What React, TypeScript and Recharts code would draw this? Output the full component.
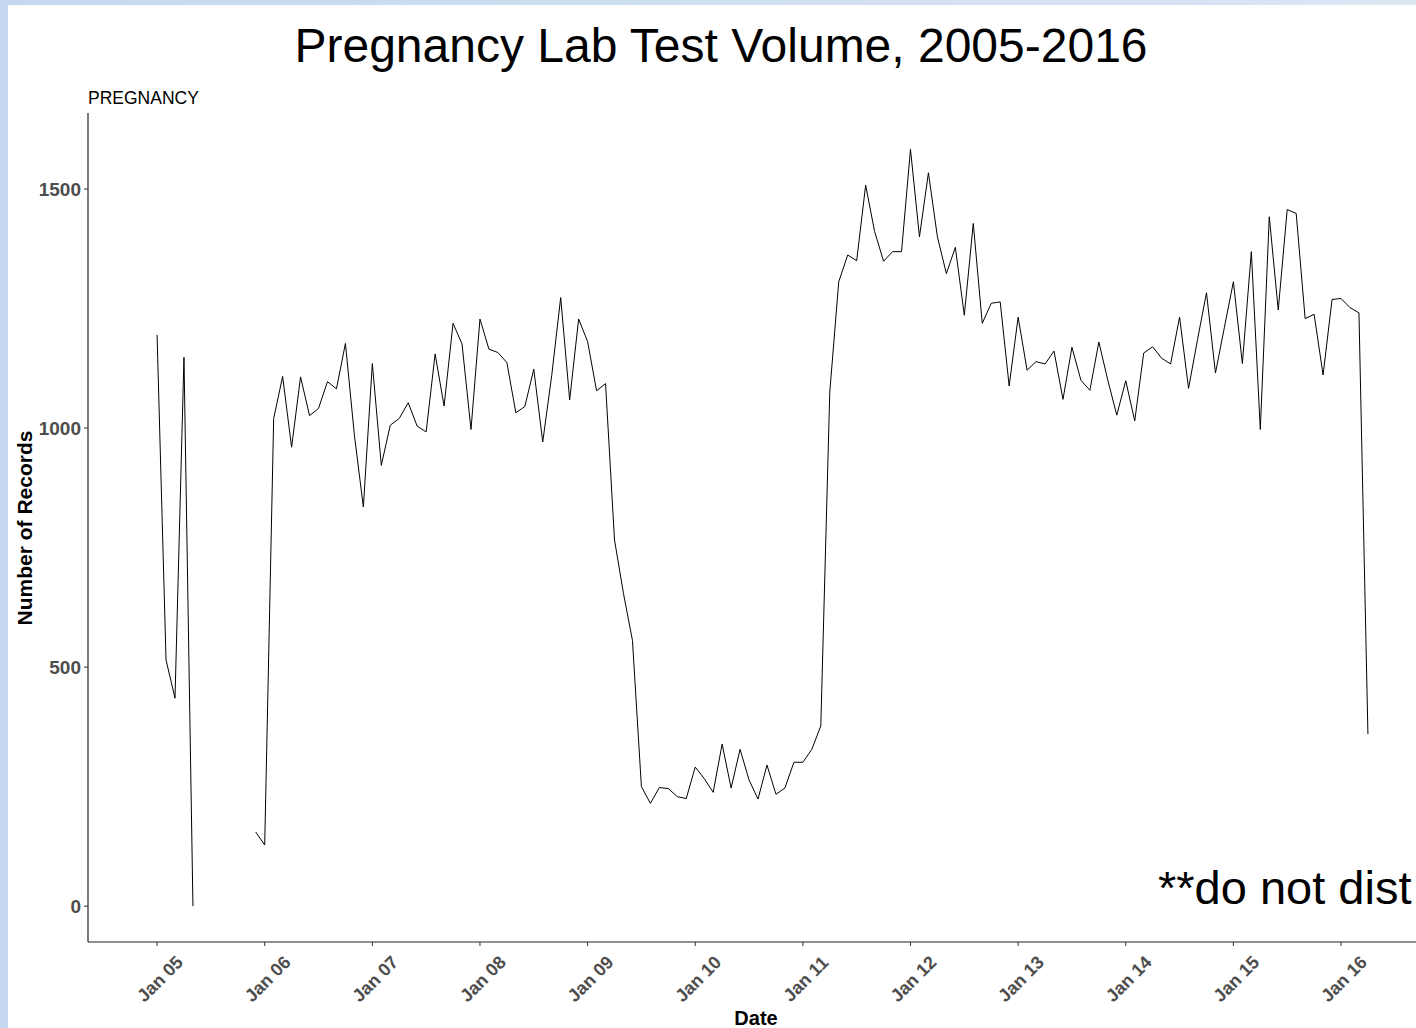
import React from 'react';
import { LineChart, Line, XAxis, YAxis } from 'recharts';

const FONT = '"Liberation Sans", Arial, Helvetica, sans-serif';

// Monthly record counts, Jan..Dec of each year
const months = ['Jan', 'Feb', 'Mar', 'Apr', 'May', 'Jun', 'Jul', 'Aug', 'Sep', 'Oct', 'Nov', 'Dec'];
const years = ['05', '06', '07', '08', '09', '10', '11', '12', '13', '14', '15', '16'];

const values2005 = [1195, 515, 435, 1148, 0, null, null, null, null, null, null, 155];
const values2006 = [128, 1020, 1108, 960, 1107, 1026, 1041, 1097, 1082, 1177, 985, 835];
const values2007 = [1135, 922, 1006, 1020, 1053, 1004, 992, 1155, 1046, 1219, 1176, 997];
const values2008 = [1228, 1165, 1158, 1137, 1032, 1045, 1123, 971, 1110, 1273, 1059, 1228];
const values2009 = [1181, 1078, 1093, 766, 654, 556, 250, 215, 248, 246, 229, 225];
const values2010 = [291, 267, 238, 339, 247, 328, 264, 224, 295, 234, 247, 301];
const values2011 = [301, 328, 377, 1075, 1306, 1362, 1350, 1508, 1411, 1349, 1369, 1369];
const values2012 = [1583, 1400, 1534, 1400, 1323, 1378, 1236, 1428, 1219, 1261, 1264, 1088];
const values2013 = [1232, 1121, 1139, 1134, 1161, 1060, 1169, 1100, 1079, 1180, 1100, 1027];
const values2014 = [1099, 1015, 1157, 1170, 1146, 1134, 1232, 1083, 1185, 1283, 1115, 1211];
const values2015 = [1306, 1135, 1369, 997, 1442, 1247, 1457, 1449, 1229, 1238, 1111, 1269];
const values2016 = [1271, 1252, 1241, 360];

const yTicks = [0, 500, 1000, 1500];
const xTickLabels = years.map((y) => `Jan ${y}`);

const allValues: (number | null)[] = [
  ...values2005, ...values2006, ...values2007, ...values2008, ...values2009, ...values2010,
  ...values2011, ...values2012, ...values2013, ...values2014, ...values2015, ...values2016,
];

const data = allValues.map((v, i) => ({
  idx: i,
  label: `${months[i % 12]} ${years[Math.floor(i / 12)]}`,
  records: v,
}));

const xTicks = xTickLabels.map((_, k) => k * 12);

const CHART_W = 1460;
const CHART_H = 1028;

const XTick = (props: any) => {
  const { x, y, payload } = props;
  const label = xTickLabels[Math.round(payload.value / 12)];
  return (
    <g transform={`translate(${x + 3},${y + 31})`}>
      <text
        transform="rotate(-45)"
        textAnchor="middle"
        dominantBaseline="central"
        fontFamily={FONT}
        fontWeight="bold"
        fontSize={18}
        fill="#4d4d4d"
      >
        {label}
      </text>
    </g>
  );
};

const YTick = (props: any) => {
  const { x, y, payload } = props;
  return (
    <text
      x={x}
      y={y}
      dy="0.36em"
      textAnchor="end"
      fontFamily={FONT}
      fontWeight="bold"
      fontSize={19}
      fill="#4d4d4d"
    >
      {payload.value}
    </text>
  );
};

export default function App() {
  return (
    <div
      style={{
        position: 'fixed',
        left: 0,
        top: 0,
        width: 1416,
        height: 1028,
        overflow: 'hidden',
        background: 'linear-gradient(to right, #c4d8ef, #dbe6f3)',
      }}
    >
      <div
        style={{
          position: 'absolute',
          left: 8,
          top: 5,
          width: 1416,
          height: 1028,
          background: '#ffffff',
        }}
      />
      <div style={{ position: 'absolute', left: 0, top: 0 }}>
        <LineChart
          width={CHART_W}
          height={CHART_H}
          data={data}
          margin={{ top: 113, right: 23, bottom: 26, left: 28 }}
        >
          <XAxis
            dataKey="idx"
            type="number"
            domain={[-7.7, 142.7]}
            ticks={xTicks}
            allowDataOverflow
            height={60}
            tickSize={4}
            tickMargin={2}
            tick={<XTick />}
            axisLine={{ stroke: '#222', strokeWidth: 1.2 }}
            tickLine={{ stroke: '#333', strokeWidth: 1 }}
          />
          <YAxis
            type="number"
            domain={[-75, 1659]}
            ticks={yTicks}
            allowDataOverflow
            width={60}
            tickSize={4}
            tickMargin={3}
            tick={<YTick />}
            axisLine={{ stroke: '#222', strokeWidth: 1.2 }}
            tickLine={{ stroke: '#333', strokeWidth: 1 }}
          />
          <Line
            type="linear"
            dataKey="records"
            stroke="#000000"
            strokeWidth={1}
            dot={false}
            activeDot={false}
            connectNulls={false}
            isAnimationActive={false}
          />
        </LineChart>
      </div>
      <svg
        width={1416}
        height={1028}
        style={{ position: 'absolute', left: 0, top: 0, pointerEvents: 'none' }}
      >
        <text x={721} y={62} textAnchor="middle" fontFamily={FONT} fontSize={48} fill="#000">
          Pregnancy Lab Test Volume, 2005-2016
        </text>
        <text x={88} y={104} fontFamily={FONT} fontSize={17.5} fill="#000">
          PREGNANCY
        </text>
        <text
          transform="translate(32,528) rotate(-90)"
          textAnchor="middle"
          fontFamily={FONT}
          fontWeight="bold"
          fontSize={21}
          fill="#000"
        >
          Number of Records
        </text>
        <text x={756} y={1025} textAnchor="middle" fontFamily={FONT} fontWeight="bold" fontSize={20} fill="#000">
          Date
        </text>
        <text x={1158} y={904} fontFamily={FONT} fontSize={47} fill="#000">
          **do not dist
        </text>
      </svg>
    </div>
  );
}
